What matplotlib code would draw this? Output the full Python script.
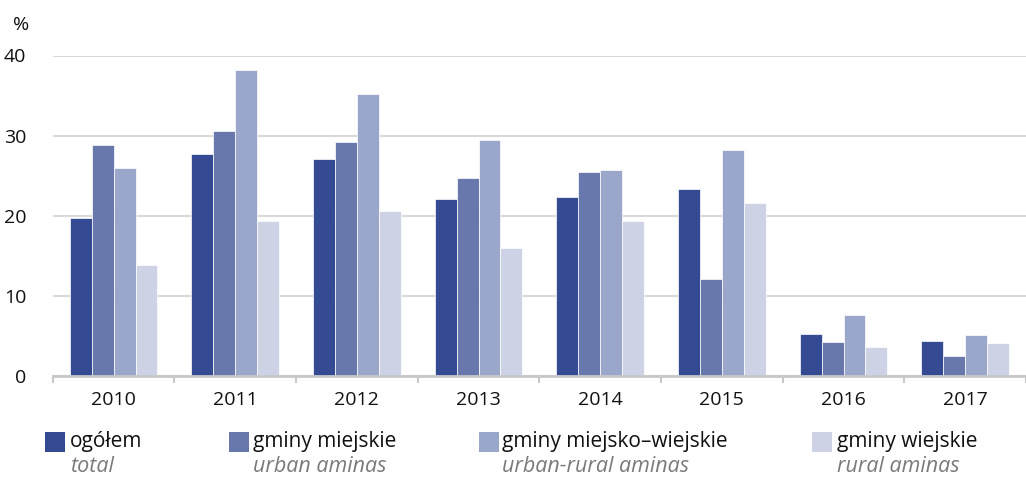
import matplotlib
matplotlib.use("Agg")
import matplotlib.pyplot as plt
import numpy as np
from matplotlib.patches import Rectangle

years = ["2010", "2011", "2012", "2013", "2014", "2015", "2016", "2017"]
ogolem = [19.7, 27.7, 27.1, 22.15, 22.3, 23.4, 5.3, 4.35]
miejskie = [28.8, 30.6, 29.2, 24.65, 25.5, 12.05, 4.2, 2.5]
miejsko_wiejskie = [26.0, 38.2, 35.25, 29.5, 25.65, 28.2, 7.6, 5.1]
wiejskie = [13.9, 19.4, 20.65, 15.95, 19.3, 21.6, 3.6, 4.1]

series = [ogolem, miejskie, miejsko_wiejskie, wiejskie]
labels = ["ogółem", "gminy miejskie", "gminy miejsko\u2013wiejskie", "gminy wiejskie"]
sublabels = ["total", "urban aminas", "urban-rural aminas", "rural aminas"]
colors = ["#344A92", "#6878AD", "#9AA7CB", "#CDD2E5"]
yticks = [0, 10, 20, 30, 40]

plt.rcParams['font.family'] = ['Open Sans', 'DejaVu Sans']

W, H = 1026, 478
fig = plt.figure(figsize=(W / 100, H / 100), dpi=100)
ax_left, ax_right = 52.8, 1026
ax_bottom, ax_top = 376, 55.5
ax = fig.add_axes([ax_left / W, (H - ax_bottom) / H, (ax_right - ax_left) / W, (ax_bottom - ax_top) / H])

x = np.arange(len(years))
bw = 0.18
for i, (vals, c) in enumerate(zip(series, colors)):
    ax.bar(x + (i - 1.5) * bw, vals, width=bw, color=c, edgecolor="#ffffff", linewidth=0.5, zorder=3)

group_px = 123.4
ax.set_xlim(-0.5, -0.5 + (ax_right - ax_left) / group_px)
ax.set_ylim(0, 40)
ax.set_yticks(yticks)
ax.set_yticklabels([str(v) for v in yticks], fontsize=14, color="#111111")
ax.yaxis.grid(True, color="#dadada", linewidth=1.5, zorder=0)
ax.tick_params(axis="y", length=0, pad=19)

ax.set_xticks(x)
ax.set_xticklabels(years, fontsize=14, color="#111111")
ax.tick_params(axis="x", which="major", length=0, pad=11)
ax.set_xticks(np.arange(-0.5, len(years) + 0.5, 1.0), minor=True)
ax.tick_params(axis="x", which="minor", length=5, width=1.5, color="#c8c8c8")

for s in ["top", "right", "left"]:
    ax.spines[s].set_visible(False)
ax.spines["bottom"].set_color("#c8c8c8")
ax.spines["bottom"].set_linewidth(2)
ax.spines["bottom"].set_zorder(4)

fig.text(13 / W, 1 - 25 / H, "%", fontsize=14, color="#111111", va="center", ha="left")

# legend
sq_x = [45, 229, 479, 812]
tx_x = [70, 253, 502, 837]
for sx, tx, lab, sub, c in zip(sq_x, tx_x, labels, sublabels, colors):
    fig.add_artist(Rectangle((sx / W, 1 - 452 / H), 20 / W, 20 / H, transform=fig.transFigure,
                             facecolor=c, edgecolor="none"))
    fig.text(tx / W, 1 - 442 / H, lab, fontsize=15, color="#111111", va="center", ha="left")
    fig.text(tx / W, 1 - 467 / H, sub, fontsize=15.5, color="#7a7a7a", va="center", ha="left",
             style="italic")

fig.savefig("out.png", dpi=100)
